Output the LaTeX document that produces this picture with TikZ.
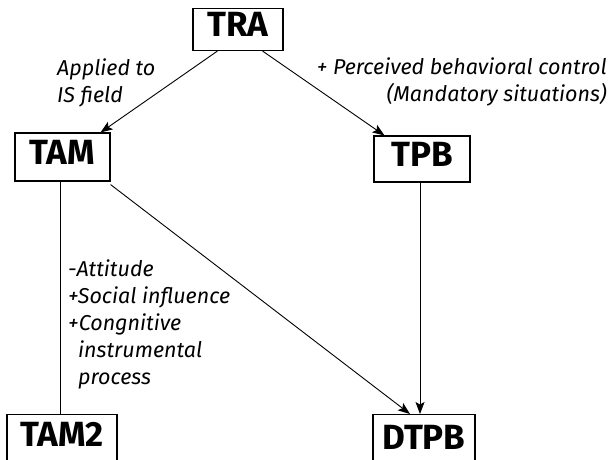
\documentclass[tikz,border=0pt]{standalone}
\usepackage{fontspec}
\setmainfont{Fira Sans}
\usetikzlibrary{arrows.meta}
\begin{document}
\begin{tikzpicture}[x=1pt,y=-1pt,
  box/.style={draw=black, line width=1.1pt, inner sep=0pt,
    font=\fontsize{35}{35}\selectfont\bfseries, text height=25pt, text depth=11pt},
  note/.style={font=\fontsize{21.5}{27}\selectfont\itshape, inner sep=0pt},
  link/.style={line width=0.9pt},
  arrow/.style={link, -{Stealth[length=12pt,width=9pt,inset=2.5pt]}}]
  \useasboundingbox (0,0) rectangle (610,459);

  % model boxes
  \node[box, minimum width=90pt, minimum height=42pt] (tra) at (238,29.5) {TRA};
  \node[box, minimum width=95pt, minimum height=48pt] (tam) at (62.5,157) {TAM};
  \node[box, minimum width=96pt, minimum height=46pt] (tpb) at (422,159) {TPB};
  \node[box, minimum width=110pt, minimum height=50pt, anchor=north] (tam2) at (62,414) {TAM2};
  \node[box, minimum width=102pt, minimum height=56pt, anchor=north] (dtpb) at (424,414) {DTPB};

  % derivations
  \draw[arrow] ([xshift=25pt]tra.south west) -- ([xshift=-10pt]tam.north east);
  \draw[arrow] ([xshift=-21pt]tra.south east) -- ([xshift=11pt]tpb.north west);
  \draw[link] ([xshift=-2pt]tam.south) -- ([xshift=-2pt]tam.south |- tam2.north);
  \draw[arrow] ([yshift=-3pt]tam.south east) -- ([xshift=-14pt]dtpb.north);
  \draw[arrow] ([xshift=-2pt]tpb.south) -- ([xshift=-2pt]tpb.south |- dtpb.north);

  % annotations
  \node[note, align=left, anchor=north west] (applied) at (57,59) {Applied to\\IS field};
  \node[note, align=right, anchor=north east] (pbc) at (607,58)
    {+ Perceived behavioral control\\(Mandatory situations)};
  \node[note, align=left, anchor=north west] (changes) at (68,260)
    {-Attitude\\+Social influence\\+Congnitive\\\hspace*{10pt}instrumental\\\hspace*{10pt}process};
\end{tikzpicture}
\end{document}
